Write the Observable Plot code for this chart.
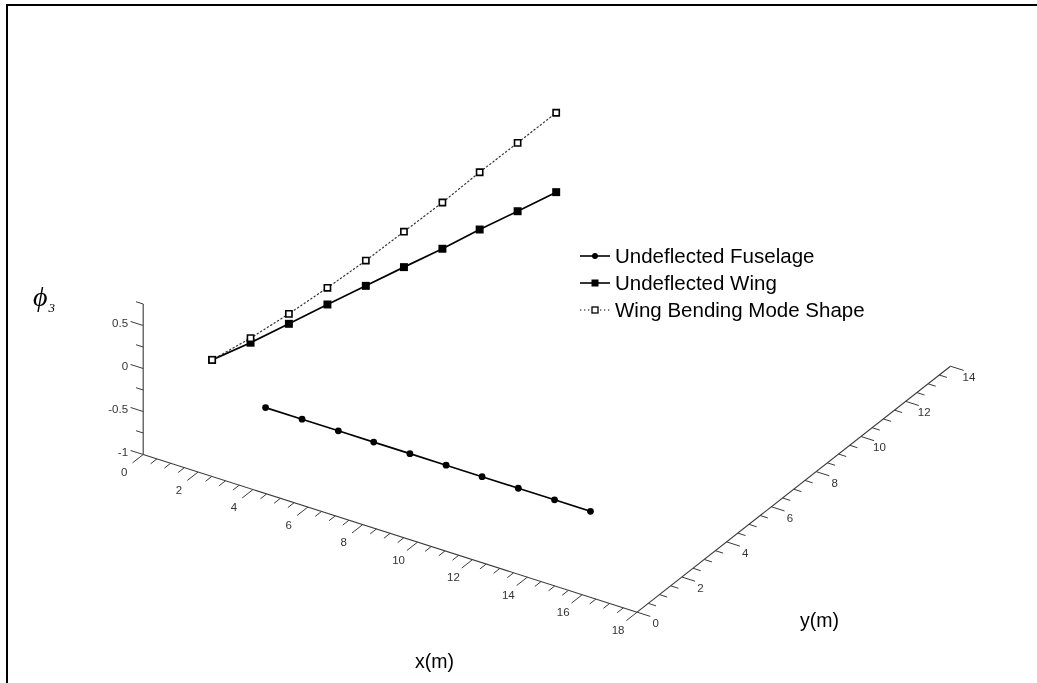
<!DOCTYPE html>
<html>
<head>
<meta charset="utf-8">
<script src="https://cdn.jsdelivr.net/npm/d3@7"></script>
<script src="https://cdn.jsdelivr.net/npm/@observablehq/plot@0.6"></script>
<style>
  html, body { margin: 0; padding: 0; background: #fff; }
  #root { position: relative; width: 1037px; height: 683px; overflow: hidden; font-family: "Liberation Sans", Arial, sans-serif; }
  #chart { position: absolute; left: 0; top: 0; opacity: 0.999; will-change: opacity; }
  .frame { position: absolute; left: 6px; top: 4px; right: -4px; bottom: -4px; border-left: 2px solid #000; border-top: 2px solid #000; pointer-events: none; }
  .lbl { position: absolute; color: #000; white-space: nowrap; line-height: 1; }
  #legend { position: absolute; left: 580px; top: 242px; font-size: 20.5px; color: #000; }
  #legend .row { display: flex; align-items: center; height: 27px; }
  #legend svg { margin-right: 4px; }
</style>
</head>
<body>
<div id="root">
  <div id="chart"></div>
  <div class="frame"></div>
  <div id="legend"></div>
  <div class="lbl" style="left:415px;top:652px;font-size:19.5px;">x(m)</div>
  <div class="lbl" style="left:800px;top:611px;font-size:19.5px;">y(m)</div>
  <div class="lbl" style="left:33px;top:283px;font-family:'Liberation Serif','DejaVu Serif',serif;font-style:italic;font-size:28px;">&#981;<span style="font-size:13px;position:relative;top:6px;left:1px;">3</span></div>
</div>
<script>
// ---------- data ----------
const seriesNames = ["Undeflected Fuselage", "Undeflected Wing", "Wing Bending Mode Shape"];

const fuselageX = [4.46, 5.79, 7.11, 8.40, 9.72, 11.04, 12.35, 13.67, 14.99, 16.30];
const fuselageY = [0, 0, 0, 0, 0, 0, 0, 0, 0, 0];
const fuselageZ = [0, 0, 0, 0, 0, 0, 0, 0, 0, 0];

const wingX = [1.50, 1.93, 2.30, 2.66, 3.04, 3.41, 3.80, 4.13, 4.51, 4.88];
const wingY = [1.24, 2.43, 3.69, 4.97, 6.22, 7.47, 8.71, 9.97, 11.20, 12.47];
const wingZ = [0, 0, 0, 0, 0, 0, 0, 0, 0, 0];

const modeZ = [0, 0.053, 0.116, 0.194, 0.294, 0.412, 0.538, 0.666, 0.795, 0.923];

const xLim = [0, 18], yLim = [0, 14], zLim = [-1, 0.75];
const xTickValues = [0, 2, 4, 6, 8, 10, 12, 14, 16, 18];
const xTickLabels = ["0", "2", "4", "6", "8", "10", "12", "14", "16", "18"];
const yTickValues = [0, 2, 4, 6, 8, 10, 12, 14];
const yTickLabels = ["0", "2", "4", "6", "8", "10", "12", "14"];
const zTickValues = [-1, -0.5, 0, 0.5];
const zTickLabels = ["-1", "-0.5", "0", "0.5"];
const xMinorStep = 0.5, yMinorStep = 0.5, zMinorStep = 0.25;

// ---------- orthographic 3-D view (screen units per data unit) ----------
const W = 1037, H = 683;
const ORIGIN = [142.7, 454];          // screen position of (xLim0, yLim0, zLim0)
const EX = [27.44, 8.76], EY = [22.38, -17.57], EZ = [0, -86];
function P(x, y, z) {
  const dx = x - xLim[0], dy = y - yLim[0], dz = z - zLim[0];
  return [ORIGIN[0] + dx * EX[0] + dy * EY[0] + dz * EZ[0],
          ORIGIN[1] + dx * EX[1] + dy * EY[1] + dz * EZ[1]];
}

// build point tables
const fuselage = fuselageX.map((x, i) => ({x, y: fuselageY[i], z: fuselageZ[i]}));
const wing = wingX.map((x, i) => ({x, y: wingY[i], z: wingZ[i]}));
const mode = wingX.map((x, i) => ({x, y: wingY[i], z: modeZ[i]}));

// axes
const axisSegs = [
  {a: [xLim[0], yLim[0], zLim[0]], b: [xLim[1], yLim[0], zLim[0]]},
  {a: [xLim[1], yLim[0], zLim[0]], b: [xLim[1], yLim[1], zLim[0]]},
  {a: [xLim[0], yLim[0], zLim[0]], b: [xLim[0], yLim[0], zLim[1]]}
];
const isMajor = (v, arr) => arr.some(t => Math.abs(t - v) < 1e-9);
const tickSegs = [];
for (const t of d3.range(xLim[0], xLim[1] + 1e-9, xMinorStep)) {
  const L = isMajor(t, xTickValues) ? 0.48 : 0.28;
  tickSegs.push({a: [t, yLim[0], zLim[0]], b: [t, yLim[0] - L, zLim[0]]});
}
for (const t of d3.range(yLim[0], yLim[1] + 1e-9, yMinorStep)) {
  const L = isMajor(t, yTickValues) ? 0.48 : 0.28;
  tickSegs.push({a: [xLim[1], t, zLim[0]], b: [xLim[1] + L, t, zLim[0]]});
}
for (const t of d3.range(zLim[0], zLim[1] + 1e-9, zMinorStep)) {
  const L = isMajor(t, zTickValues) ? 0.46 : 0.26;
  tickSegs.push({a: [xLim[0], yLim[0], t], b: [xLim[0] - L, yLim[0], t]});
}
const xLabels = xTickValues.map((v, i) => ({p: P(v, yLim[0] - 0.85, zLim[0]), s: xTickLabels[i]}));
const yLabels = yTickValues.map((v, i) => ({p: P(xLim[1] + 0.6, v, zLim[0]), s: yTickLabels[i]}));
const zLabels = zTickValues.map((v, i) => ({p: P(xLim[0] - 0.55, yLim[0], v), s: zTickLabels[i]}));

const px = d => P(d.x, d.y, d.z)[0], py = d => P(d.x, d.y, d.z)[1];
const axisColor = "#3a3a3a";
const tickFont = {fontSize: 11.5, fill: "#333", fontFamily: "Liberation Sans, Arial, sans-serif"};

const chart = Plot.plot({
  width: W, height: H,
  margin: 0,
  x: {domain: [0, W], range: [0, W], axis: null},
  y: {domain: [0, H], range: [0, H], axis: null},
  marks: [
    Plot.link(axisSegs, {x1: d => P(...d.a)[0], y1: d => P(...d.a)[1], x2: d => P(...d.b)[0], y2: d => P(...d.b)[1], stroke: axisColor, strokeWidth: 1.1}),
    Plot.link(tickSegs, {x1: d => P(...d.a)[0], y1: d => P(...d.a)[1], x2: d => P(...d.b)[0], y2: d => P(...d.b)[1], stroke: axisColor, strokeWidth: 1}),
    Plot.text(xLabels, {x: d => d.p[0], y: d => d.p[1], text: "s", dy: 3, ...tickFont}),
    Plot.text(yLabels, {x: d => d.p[0], y: d => d.p[1], text: "s", dy: 6, dx: 2, ...tickFont}),
    Plot.text(zLabels, {x: d => d.p[0], y: d => d.p[1], text: "s", dy: 2.5, textAnchor: "end", ...tickFont}),
    // fuselage
    Plot.line(fuselage, {x: px, y: py, stroke: "#000", strokeWidth: 1.7}),
    Plot.dot(fuselage, {x: px, y: py, r: 3.4, fill: "#000", stroke: "none"}),
    // wing
    Plot.line(wing, {x: px, y: py, stroke: "#000", strokeWidth: 1.7}),
    Plot.dot(wing, {x: px, y: py, symbol: "square", r: 4.5, fill: "#000", stroke: "none"}),
    // mode shape
    Plot.line(mode, {x: px, y: py, stroke: "#333", strokeWidth: 1.2, strokeDasharray: "1.3,2.7"}),
    Plot.dot(mode, {x: px, y: py, symbol: "square", r: 3.5, fill: "#fff", stroke: "#000", strokeWidth: 1.6})
  ]
});
document.getElementById("chart").appendChild(chart);

// legend
const legendStyles = [
  {dash: null, sym: "circle"},
  {dash: null, sym: "fsquare"},
  {dash: "1.3,2.7", sym: "osquare"}
];
const leg = document.getElementById("legend");
seriesNames.forEach((name, i) => {
  const st = legendStyles[i];
  const row = document.createElement("div");
  row.className = "row";
  let m = "";
  if (st.sym === "circle") m = '<circle cx="15" cy="10" r="3" fill="#000"/>';
  if (st.sym === "fsquare") m = '<rect x="11.5" y="6.5" width="7" height="7" fill="#000"/>';
  if (st.sym === "osquare") m = '<rect x="12" y="7" width="6" height="6" fill="#fff" stroke="#000" stroke-width="1.3"/>';
  row.innerHTML = '<svg width="31" height="20"><line x1="0" y1="10" x2="30" y2="10" stroke="#000" stroke-width="' + (st.dash ? 1 : 1.6) + '"' + (st.dash ? ' stroke-dasharray="' + st.dash + '"' : '') + '/>' + m + '</svg><span>' + name + '</span>';
  leg.appendChild(row);
});
</script>
</body>
</html>
